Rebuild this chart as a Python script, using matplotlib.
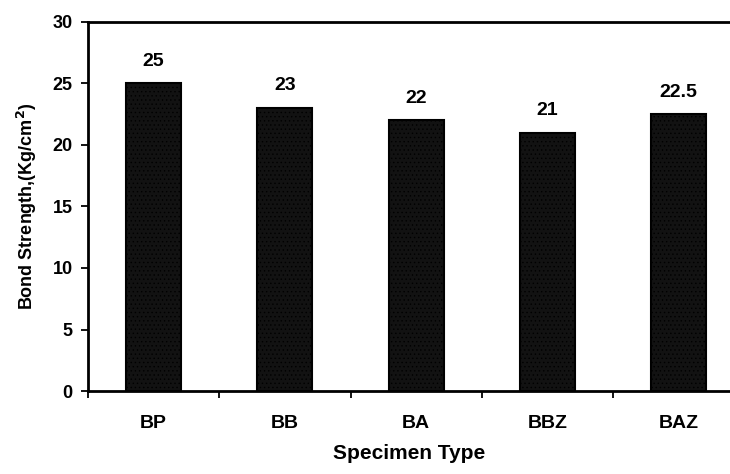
import matplotlib
matplotlib.use("Agg")
import matplotlib.pyplot as plt
import numpy as np

categories = ["BP", "BB", "BA", "BBZ", "BAZ"]
values = [25, 23, 22, 21, 22.5]
value_labels = ["25", "23", "22", "21", "22.5"]
yticks = [0, 5, 10, 15, 20, 25, 30]

plt.rcParams['font.family'] = ['Liberation Sans', 'DejaVu Sans']
plt.rcParams['font.weight'] = 'bold'
plt.rcParams['hatch.color'] = '#5a5a5a'
plt.rcParams['hatch.linewidth'] = 0.5

fig = plt.figure(figsize=(7.3, 4.74), dpi=100)
ax = fig.add_axes([0.1205, 0.175, 0.8795, 0.779])

x = np.arange(len(categories))
ax.bar(x, values, width=0.42, color='#121212', edgecolor='black', linewidth=1.5,
       hatch='....', zorder=2)

for xi, v, lab in zip(x, values, value_labels):
    ax.text(xi, v + 1.1, lab, ha='center', va='bottom', fontsize=14, fontweight='bold')

ax.set_xlim(-0.5, 4.39)
ax.set_ylim(0, 30)
ax.set_yticks(yticks)
ax.set_yticklabels([str(t) for t in yticks], fontsize=13, fontweight='bold')
ax.set_xticks(x)
ax.set_xticklabels(categories, fontsize=14, fontweight='bold')
ax.tick_params(axis='x', length=0, pad=17)
ax.set_xticks(np.arange(-0.5, 4.5, 1.0), minor=True)
ax.tick_params(axis='x', which='minor', length=5, width=1.3, direction='out')
ax.tick_params(axis='y', length=5, width=1.3, direction='out', pad=6)

ax.spines['right'].set_visible(False)
for s in ['left', 'top', 'bottom']:
    ax.spines[s].set_linewidth(2)

ax.set_ylabel("Bond Strength,(Kg/cm$^\\mathbf{2}$)", fontsize=13, fontweight='bold', labelpad=10)
ax.set_xlabel("Specimen Type", fontsize=15, fontweight='bold', labelpad=9)

fig.savefig("out.png", dpi=100)
